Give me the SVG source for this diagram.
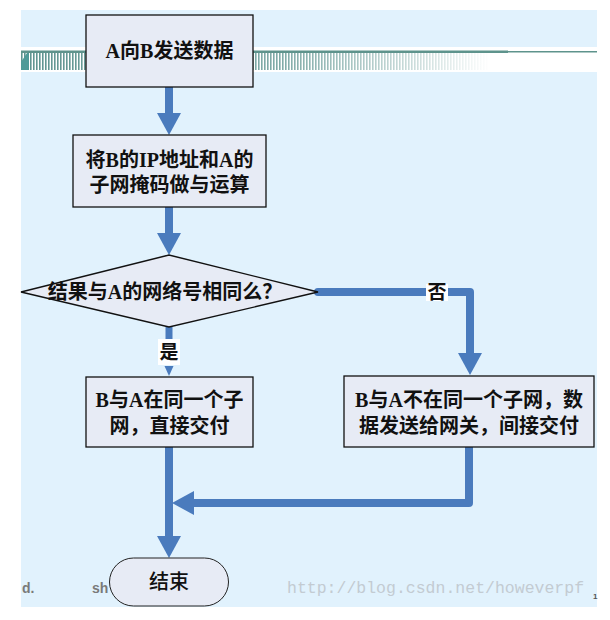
<svg xmlns="http://www.w3.org/2000/svg" width="610" height="620" viewBox="0 0 610 620">
<style>
.box{fill:#e7ebf5;stroke:#111;stroke-width:1.3}
.t{font-family:"Liberation Serif","Noto Sans CJK SC",serif;font-weight:bold;font-size:20px;fill:#111;text-anchor:middle}
.conn{fill:none;stroke:#4a7bbd;stroke-width:8;stroke-linecap:round;stroke-linejoin:round}
.lbl{fill:#fff}
.lt{font-family:"Noto Sans CJK SC",sans-serif;font-weight:bold;font-size:19px;fill:#111;text-anchor:middle}
</style>
<defs>
<marker id="ah" viewBox="0 0 22 24" markerWidth="22" markerHeight="24" refX="0" refY="12" orient="auto" markerUnits="userSpaceOnUse">
<path d="M0,0 L22,12 L0,24 Z" fill="#4a7bbd"/>
</marker>
<pattern id="stripes" x="0" y="0" width="3" height="20" patternUnits="userSpaceOnUse">
<rect x="0" y="0" width="1.6" height="20" fill="#5f9591"/>
</pattern>
<linearGradient id="fade" x1="21" y1="0" x2="490" y2="0" gradientUnits="userSpaceOnUse">
<stop offset="0" stop-color="#fff" stop-opacity="0"/>
<stop offset="0.55" stop-color="#fff" stop-opacity="0.2"/>
<stop offset="0.85" stop-color="#fff" stop-opacity="0.7"/>
<stop offset="1" stop-color="#fff" stop-opacity="1"/>
</linearGradient>
</defs>
<rect width="610" height="620" fill="#fff"/>
<rect x="21" y="10" width="576" height="597" fill="#e1f2fd"/>
<g id="band">
<rect x="21" y="47" width="576" height="25" fill="#fff"/>
<rect x="21" y="53" width="470" height="17" fill="url(#stripes)"/>
<rect x="21" y="53" width="470" height="17" fill="url(#fade)"/>
<polygon points="21,70 21,62 27,53 29,53 29,70" fill="#4f9a98"/>
<rect x="21" y="50.5" width="487" height="2.5" fill="#5e938c"/>
<rect x="508" y="51" width="89" height="1.5" fill="#5e938c"/>
</g>
<g id="connectors">
<path class="conn" d="M169,87 V113" marker-end="url(#ah)"/>
<path class="conn" d="M169,207 V233" marker-end="url(#ah)"/>
<path d="M169,327 V340" fill="none" stroke="#4a7bbd" stroke-width="7"/>
<polygon points="164.5,366 173.5,366 169,376" fill="#4a7bbd"/>
<rect class="lbl" x="158" y="339" width="22" height="26"/>
<text class="lt" x="169" y="359">是</text>
<path class="conn" d="M318,292 H470 V353" marker-end="url(#ah)"/>
<rect class="lbl" x="426" y="284" width="22" height="17"/>
<text class="lt" x="437" y="299">否</text>
<path class="conn" d="M469,447 V503 H194" marker-end="url(#ah)"/>
<path class="conn" d="M169,447 V536" marker-end="url(#ah)"/>
</g>
<g id="footer">
<text x="22" y="593" font-family="Liberation Sans,sans-serif" font-weight="bold" font-size="14" fill="#7a7a7a">d.</text>
<text x="92" y="593" font-family="Liberation Sans,sans-serif" font-weight="bold" font-size="14" fill="#7a7a7a">sh</text>
<text x="287" y="593" font-family="Liberation Mono,monospace" font-size="16.5" fill="#c3cbd2">http://blog.csdn.net/howeverpf</text>
<text x="593" y="599" font-family="Liberation Sans,sans-serif" font-weight="bold" font-size="8" fill="#555">1</text>
</g>
<g id="n1">
<rect class="box" x="86" y="15" width="167" height="72"/>
<text class="t" x="169.5" y="58">A向B发送数据</text>
</g>
<g id="n2">
<rect class="box" x="73" y="135" width="193" height="72"/>
<text class="t" x="169.5" y="167">将B的IP地址和A的</text>
<text class="t" x="169.5" y="192">子网掩码做与运算</text>
</g>
<g id="n3">
<polygon class="box" points="21,292 169,255 318,292 169,327" stroke-width="1"/>
<text class="t" x="165" y="299">结果与A的网络号相同么？</text>
</g>
<g id="n4">
<rect class="box" x="86" y="377" width="167" height="70"/>
<text class="t" x="169.5" y="407">B与A在同一个子</text>
<text class="t" x="169.5" y="433">网，直接交付</text>
</g>
<g id="n5">
<rect class="box" x="344" y="376" width="250" height="71"/>
<text class="t" x="469" y="407">B与A不在同一个子网，数</text>
<text class="t" x="469" y="433">据发送给网关，间接交付</text>
</g>
<g id="n6">
<rect x="109.5" y="558" width="119" height="48" rx="24" ry="24" fill="#e7ebf5" stroke="#222" stroke-width="1"/>
<text x="169" y="589" font-family="Noto Sans CJK SC,sans-serif" font-weight="500" font-size="20" fill="#111" text-anchor="middle">结束</text>
</g>
</svg>
